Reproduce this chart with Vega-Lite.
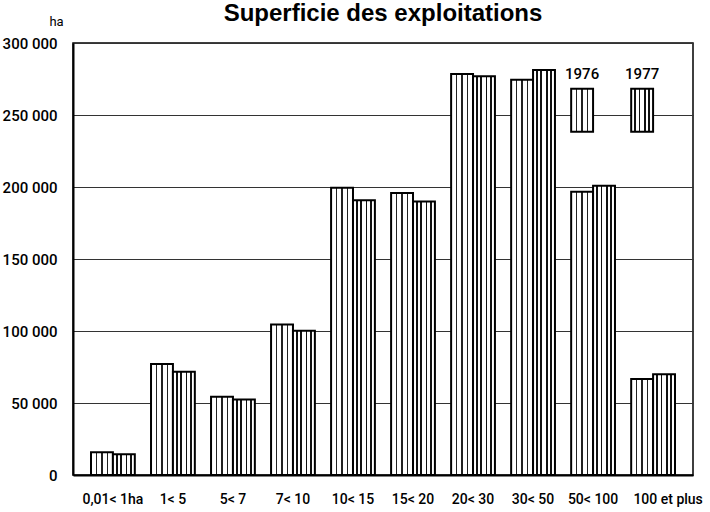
{
  "$schema": "https://vega.github.io/schema/vega-lite/v6.json",
  "width": 620,
  "height": 432,
  "autosize": {"type": "none"},
  "padding": {"left": 73, "top": 43, "right": 17, "bottom": 37},
  "background": "white",
  "title": {
    "text": "Superficie des exploitations",
    "font": "Liberation Sans",
    "fontWeight": "bold",
    "fontSize": 24,
    "color": "black",
    "anchor": "middle",
    "frame": "group",
    "baseline": "alphabetic",
    "offset": -30
  },
  "config": {
    "view": {"stroke": "black", "strokeWidth": 1.5},
    "axis": {
      "labelFont": "Roboto",
      "labelFontWeight": 500,
      "labelColor": "black",
      "titleFont": "Roboto",
      "titleColor": "black"
    }
  },
  "data": {
    "values": [
      {"cat": "0,01< 1ha", "year": "1976", "ha": 15800},
      {"cat": "0,01< 1ha", "year": "1977", "ha": 14400},
      {"cat": "1< 5", "year": "1976", "ha": 77000},
      {"cat": "1< 5", "year": "1977", "ha": 71700},
      {"cat": "5< 7", "year": "1976", "ha": 54400},
      {"cat": "5< 7", "year": "1977", "ha": 52500},
      {"cat": "7< 10", "year": "1976", "ha": 104500},
      {"cat": "7< 10", "year": "1977", "ha": 100200},
      {"cat": "10< 15", "year": "1976", "ha": 199400},
      {"cat": "10< 15", "year": "1977", "ha": 190800},
      {"cat": "15< 20", "year": "1976", "ha": 195900},
      {"cat": "15< 20", "year": "1977", "ha": 190000},
      {"cat": "20< 30", "year": "1976", "ha": 278500},
      {"cat": "20< 30", "year": "1977", "ha": 276900},
      {"cat": "30< 50", "year": "1976", "ha": 274400},
      {"cat": "30< 50", "year": "1977", "ha": 281300},
      {"cat": "50< 100", "year": "1976", "ha": 196700},
      {"cat": "50< 100", "year": "1977", "ha": 200900},
      {"cat": "100 et plus", "year": "1976", "ha": 66700},
      {"cat": "100 et plus", "year": "1977", "ha": 69900}
    ]
  },
  "encoding": {
    "x": {
      "field": "cat",
      "type": "nominal",
      "scale": {
        "domain": ["0,01< 1ha", "1< 5", "5< 7", "7< 10", "10< 15", "15< 20", "20< 30", "30< 50", "50< 100", "100 et plus"],
        "paddingInner": 0.27,
        "paddingOuter": 0.3
      },
      "axis": {
        "title": null,
        "labelAngle": 0,
        "labelFontSize": 14,
        "labelPadding": 17,
        "labelOffset": {"condition": {"test": "datum.value === '100 et plus'", "value": 15}, "value": 0},
        "ticks": false,
        "tickSize": 0,
        "domainColor": "black",
        "domainWidth": 2,
        "grid": false
      }
    }
  },
  "layer": [
    {
      "transform": [{"filter": "datum.year === '1976'"}],
      "mark": {
        "type": "bar",
        "stroke": "black",
        "strokeWidth": 2,
        "fill": {
          "gradient": "linear", "x1": 0, "y1": 0, "x2": 1, "y2": 0,
          "stops": [
            {"offset": 0, "color": "white"},
            {"offset": 0.22, "color": "white"},
            {"offset": 0.22, "color": "#222222"},
            {"offset": 0.28, "color": "#222222"},
            {"offset": 0.28, "color": "white"},
            {"offset": 0.47, "color": "white"},
            {"offset": 0.47, "color": "#222222"},
            {"offset": 0.53, "color": "#222222"},
            {"offset": 0.53, "color": "white"},
            {"offset": 0.72, "color": "white"},
            {"offset": 0.72, "color": "#222222"},
            {"offset": 0.78, "color": "#222222"},
            {"offset": 0.78, "color": "white"},
            {"offset": 1, "color": "white"}
          ]
        }
      },
      "encoding": {
        "xOffset": {"field": "year", "type": "nominal", "scale": {"domain": ["1976", "1977"], "paddingInner": 0}},
        "y": {
          "field": "ha",
          "type": "quantitative",
          "scale": {"domain": [0, 300000], "nice": false},
          "axis": {
            "values": [0, 50000, 100000, 150000, 200000, 250000, 300000],
            "labelExpr": "replace(format(datum.value, ','), regexp(',', 'g'), ' ')",
            "labelFontSize": 15,
            "labelPadding": 16,
            "ticks": false,
            "tickSize": 0,
            "domainColor": "black",
            "domainWidth": 2,
            "grid": true,
            "gridColor": "#333333",
            "gridWidth": 1,
            "gridOpacity": 1,
            "title": "ha",
            "titleAngle": 0,
            "titleFontSize": 13,
            "titleFontWeight": "normal",
            "titleX": -17,
            "titleY": -18,
            "titleAlign": "center",
            "titleBaseline": "alphabetic"
          }
        }
      }
    },
    {
      "transform": [{"filter": "datum.year === '1977'"}],
      "mark": {
        "type": "bar",
        "stroke": "black",
        "strokeWidth": 2,
        "fill": {
          "gradient": "linear", "x1": 0, "y1": 0, "x2": 1, "y2": 0,
          "stops": [
            {"offset": 0, "color": "white"},
            {"offset": 0.14, "color": "white"},
            {"offset": 0.14, "color": "#111111"},
            {"offset": 0.22, "color": "#111111"},
            {"offset": 0.22, "color": "white"},
            {"offset": 0.34, "color": "white"},
            {"offset": 0.34, "color": "#111111"},
            {"offset": 0.42, "color": "#111111"},
            {"offset": 0.42, "color": "white"},
            {"offset": 0.58, "color": "white"},
            {"offset": 0.58, "color": "#111111"},
            {"offset": 0.66, "color": "#111111"},
            {"offset": 0.66, "color": "white"},
            {"offset": 0.78, "color": "white"},
            {"offset": 0.78, "color": "#111111"},
            {"offset": 0.86, "color": "#111111"},
            {"offset": 0.86, "color": "white"},
            {"offset": 1, "color": "white"}
          ]
        }
      },
      "encoding": {
        "xOffset": {"field": "year", "type": "nominal"},
        "y": {"field": "ha", "type": "quantitative"}
      }
    },
    {
      "data": {"values": [{"cat": "50< 100", "slot": "1976", "lo": 238400, "hi": 268300}]},
      "mark": {
        "type": "bar",
        "stroke": "black",
        "strokeWidth": 2,
        "fill": {
          "gradient": "linear", "x1": 0, "y1": 0, "x2": 1, "y2": 0,
          "stops": [
            {"offset": 0, "color": "white"},
            {"offset": 0.22, "color": "white"},
            {"offset": 0.22, "color": "#222222"},
            {"offset": 0.28, "color": "#222222"},
            {"offset": 0.28, "color": "white"},
            {"offset": 0.47, "color": "white"},
            {"offset": 0.47, "color": "#222222"},
            {"offset": 0.53, "color": "#222222"},
            {"offset": 0.53, "color": "white"},
            {"offset": 0.72, "color": "white"},
            {"offset": 0.72, "color": "#222222"},
            {"offset": 0.78, "color": "#222222"},
            {"offset": 0.78, "color": "white"},
            {"offset": 1, "color": "white"}
          ]
        }
      },
      "encoding": {
        "xOffset": {"field": "slot", "type": "nominal"},
        "y": {"field": "lo", "type": "quantitative"},
        "y2": {"field": "hi"}
      }
    },
    {
      "data": {"values": [{"cat": "100 et plus", "slot": "1976", "lo": 238400, "hi": 268300}]},
      "mark": {
        "type": "bar",
        "stroke": "black",
        "strokeWidth": 2,
        "fill": {
          "gradient": "linear", "x1": 0, "y1": 0, "x2": 1, "y2": 0,
          "stops": [
            {"offset": 0, "color": "white"},
            {"offset": 0.14, "color": "white"},
            {"offset": 0.14, "color": "#111111"},
            {"offset": 0.22, "color": "#111111"},
            {"offset": 0.22, "color": "white"},
            {"offset": 0.34, "color": "white"},
            {"offset": 0.34, "color": "#111111"},
            {"offset": 0.42, "color": "#111111"},
            {"offset": 0.42, "color": "white"},
            {"offset": 0.58, "color": "white"},
            {"offset": 0.58, "color": "#111111"},
            {"offset": 0.66, "color": "#111111"},
            {"offset": 0.66, "color": "white"},
            {"offset": 0.78, "color": "white"},
            {"offset": 0.78, "color": "#111111"},
            {"offset": 0.86, "color": "#111111"},
            {"offset": 0.86, "color": "white"},
            {"offset": 1, "color": "white"}
          ]
        }
      },
      "encoding": {
        "xOffset": {"field": "slot", "type": "nominal"},
        "y": {"field": "lo", "type": "quantitative"},
        "y2": {"field": "hi"}
      }
    },
    {
      "data": {
        "values": [
          {"cat": "50< 100", "slot": "1976", "label": "1976", "pos": 278500},
          {"cat": "100 et plus", "slot": "1976", "label": "1977", "pos": 278500}
        ]
      },
      "mark": {
        "type": "text",
        "font": "Roboto",
        "fontSize": 15,
        "fontWeight": 500,
        "color": "black",
        "baseline": "middle",
        "align": "center"
      },
      "encoding": {
        "xOffset": {"field": "slot", "type": "nominal"},
        "y": {"field": "pos", "type": "quantitative"},
        "text": {"field": "label"}
      }
    }
  ]
}
